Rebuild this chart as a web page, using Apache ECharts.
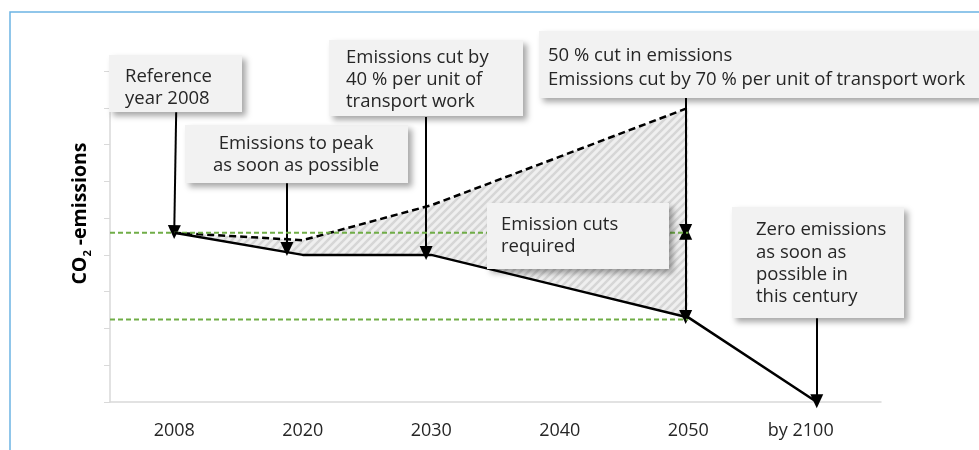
<!DOCTYPE html>
<html>
<head>
<meta charset="utf-8">
<script src="https://cdn.jsdelivr.net/npm/echarts@6/dist/echarts.min.js"></script>
<style>
  html, body { margin: 0; padding: 0; background: #fff; }
  #chart { width: 979px; height: 450px; }
</style>
</head>
<body>
<div id="chart"></div>
<script>
// kategorier langs x-aksen
const categories = ['2008', '2020', '2030', '2040', '2050', 'by 2100'];
// ønsket utslippsbane (heltrukken)
const targetPath = [4.6, 4.0, 4.0, 3.15, 2.3, 0];
// utvikling uten tiltak (stiplet), 2008-2050
const withoutCuts = [4.6, 4.4, 5.35, 6.67, 8.0];
// grønne referansenivå
const referenceLevel = 4.6;
const halfLevel = 2.24;

// tekster i boksene
const noteRef = 'Reference\nyear 2008';
const notePeak = 'Emissions to peak\nas soon as possible';
const noteCut40 = 'Emissions cut by\n40 % per unit of\ntransport work';
const noteCut50 = '50 % cut in emissions\nEmissions cut by 70 % per unit of transport work';
const noteRequired = 'Emission cuts\nrequired';
const noteZero = 'Zero emissions\nas soon as\npossible in\nthis century';

const FONT = '"Open Sans", "DejaVu Sans", sans-serif';

// skravert mønster til området mellom linjene
function hatch() {
  const c = document.createElement('canvas');
  c.width = 8; c.height = 8;
  const ctx = c.getContext('2d');
  ctx.fillStyle = '#efefef';
  ctx.fillRect(0, 0, 8, 8);
  ctx.strokeStyle = '#d6d6d6';
  ctx.lineWidth = 2.5;
  ctx.beginPath();
  ctx.moveTo(-4, 4); ctx.lineTo(4, -4);
  ctx.moveTo(0, 8); ctx.lineTo(8, 0);
  ctx.moveTo(4, 12); ctx.lineTo(12, 4);
  ctx.stroke();
  return c;
}

const gap = withoutCuts.map((v, i) => +(v - targetPath[i]).toFixed(3));

function box(x, y, w, h, text, tx, ty, lh, align) {
  return {
    type: 'group',
    children: [
      {
        type: 'rect', z: 100,
        shape: { x: x, y: y, width: w, height: h },
        style: { fill: '#f2f2f2', shadowBlur: 6, shadowOffsetX: 4, shadowOffsetY: 4, shadowColor: 'rgba(0,0,0,0.35)' }
      },
      {
        type: 'text', z: 101,
        x: tx, y: ty,
        style: { text: text, font: '18.5px ' + FONT, fill: '#262626', lineHeight: lh, align: align || 'left', verticalAlign: 'top' }
      }
    ]
  };
}

function arrow(x1, y1, x2, y2, both) {
  return [
    { coord: [x1, y1], symbol: both ? 'triangle' : 'none' },
    { coord: [x2, y2], symbol: 'triangle' }
  ];
}

const option = {
  animation: false,
  grid: { left: 110, right: 98, top: 71, bottom: 48 },
  xAxis: [
    {
      type: 'category',
      data: categories,
      boundaryGap: true,
      axisLine: { lineStyle: { color: '#d9d9d9', width: 1.5 } },
      axisTick: { length: 5, lineStyle: { color: '#d9d9d9' }, interval: function (i) { return i === 0 || i === 5; } },
      axisLabel: {
        interval: 0,
        color: '#262626', fontSize: 18, fontFamily: FONT, margin: 20,
        formatter: function (v) { return v === 'by 2100' ? '{last|' + v + '}' : v; },
        rich: { last: { color: '#262626', fontSize: 18, fontFamily: FONT, padding: [0, 32, 0, 0] } }
      }
    },
    { type: 'value', min: 0, max: 6, show: false }
  ],
  yAxis: {
    type: 'value',
    min: 0, max: 9, interval: 1,
    name: '{a|CO}{s|2}{a| -emissions}',
    nameLocation: 'middle',
    nameRotate: 90,
    nameGap: 17,
    nameTextStyle: {
      padding: [0, 0, 0, 46],
      rich: {
        a: { fontSize: 19.5, fontWeight: 'bold', fontFamily: FONT, color: '#000', lineHeight: 26 },
        s: { fontSize: 11, fontWeight: 'bold', fontFamily: FONT, color: '#000', lineHeight: 11, verticalAlign: 'bottom' }
      }
    },
    axisLine: { show: true, lineStyle: { color: '#d9d9d9', width: 1.5 } },
    axisTick: { show: true, length: 6, lineStyle: { color: '#d9d9d9' } },
    axisLabel: { show: false },
    splitLine: { show: false }
  },
  series: [
    {
      name: 'base', type: 'line', stack: 'gap',
      data: targetPath.slice(0, withoutCuts.length),
      symbol: 'none', lineStyle: { opacity: 0 }, z: 1
    },
    {
      name: 'without cuts', type: 'line', stack: 'gap',
      data: gap,
      symbol: 'none',
      lineStyle: { color: '#000', width: 2.5, type: [7, 4] },
      areaStyle: { color: { image: hatch(), repeat: 'repeat' }, opacity: 1 },
      z: 3
    },
    {
      name: 'reference', type: 'line', xAxisIndex: 1,
      data: [[0, referenceLevel], [4.5, referenceLevel]],
      symbol: 'none', lineStyle: { color: '#70ad47', width: 2, type: [5, 3] }, z: 5
    },
    {
      name: 'half', type: 'line', xAxisIndex: 1,
      data: [[0, halfLevel], [4.5, halfLevel]],
      symbol: 'none', lineStyle: { color: '#70ad47', width: 2, type: [5, 3] }, z: 5
    },
    {
      name: 'target', type: 'line',
      data: targetPath,
      symbol: 'none', lineStyle: { color: '#000', width: 2.5 }, z: 6
    },
    {
      name: 'arrows', type: 'line', xAxisIndex: 1, data: [], z: 7,
      markLine: {
        silent: true,
        symbolSize: [13, 14],
        label: { show: false },
        lineStyle: { color: '#000', width: 2, type: 'solid' },
        data: [
          arrow(0.515, 7.88, 0.5, 4.62),
          arrow(1.377, 5.95, 1.377, 4.16),
          arrow(2.46, 7.75, 2.46, 4.05),
          arrow(4.48, 8.27, 4.48, 4.65),
          arrow(4.48, 4.6, 4.48, 2.31, true),
          arrow(5.5, 2.28, 5.5, 0.02)
        ]
      }
    }
  ],
  graphic: [
    {
      type: 'rect', z: 0,
      shape: { x: 10, y: 12, width: 1000, height: 500 },
      style: { fill: 'none', stroke: '#6cb4e4', lineWidth: 1.5 }
    },
    box(109, 55, 133, 57, noteRef, 125, 66, 22),
    box(185, 125, 223, 58, notePeak, 296, 133, 22, 'center'),
    box(329, 40, 194, 76, noteCut40, 346, 47, 22),
    box(539, 31, 440, 67, noteCut50, 548, 44, 24),
    box(487, 203, 182, 66, noteRequired, 501, 214, 22),
    box(732, 207, 172, 111, noteZero, 756, 219, 22.3)
  ]
};

const chart = echarts.init(document.getElementById('chart'));
chart.setOption(option);
window.addEventListener('resize', function () { chart.resize(); });
</script>
</body>
</html>
